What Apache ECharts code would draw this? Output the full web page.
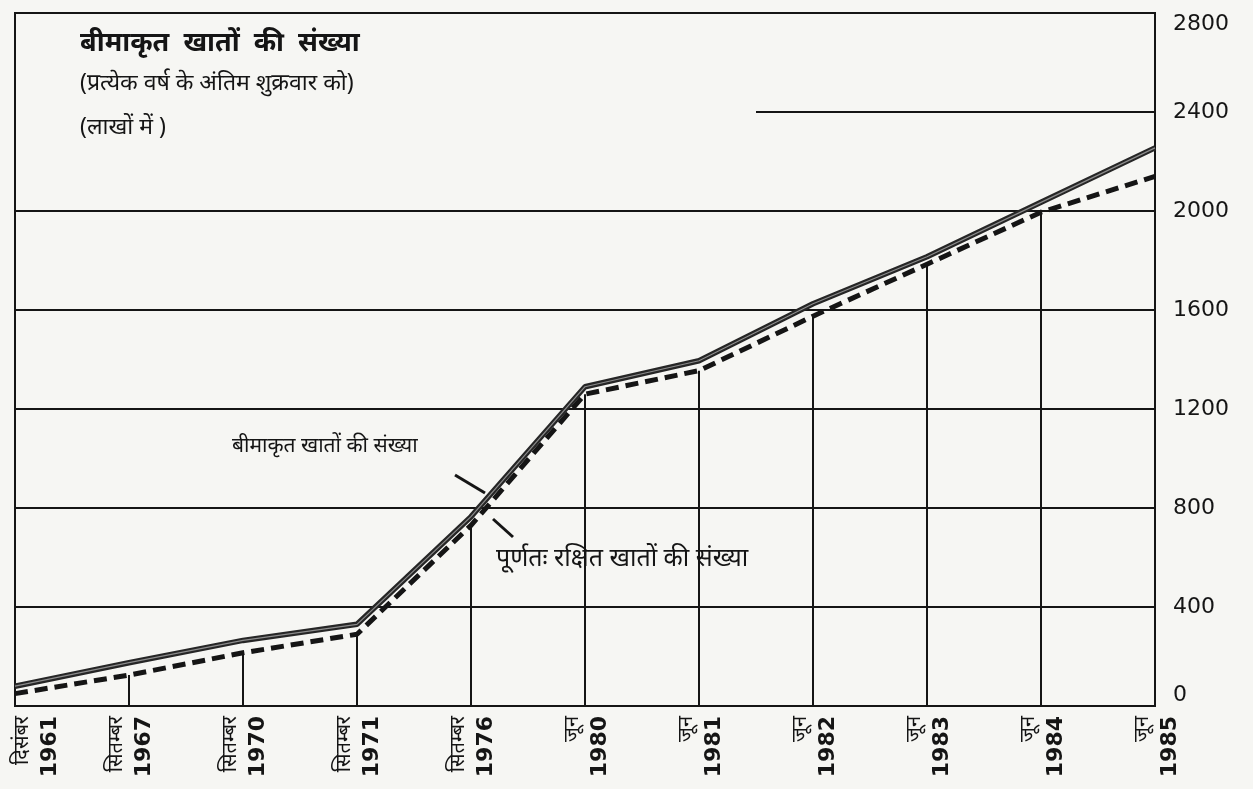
<!DOCTYPE html>
<html>
<head>
<meta charset="utf-8">
<title>बीमाकृत खातों की संख्या</title>
<script src="https://cdn.jsdelivr.net/npm/echarts@6/dist/echarts.min.js"></script>
<style>
  html, body { margin: 0; padding: 0; background: #f6f6f3; }
  #main { width: 1253px; height: 789px; }
</style>
</head>
<body>
<div id="main"></div>
<script>
// x axis: month + year of each reading
var months = ['दिसंबर', 'सितम्बर', 'सितम्बर', 'सितम्बर', 'सितम्बर', 'जून', 'जून', 'जून', 'जून', 'जून', 'जून'];
var years = ['1961', '1967', '1970', '1971', '1976', '1980', '1981', '1982', '1983', '1984', '1985'];
// बीमाकृत खातों की संख्या (लाखों में)
var insured = [80, 175, 265, 330, 765, 1290, 1395, 1625, 1815, 2035, 2255];
// पूर्णतः रक्षित खातों की संख्या (लाखों में)
var fullyProtected = [50, 125, 215, 290, 730, 1260, 1355, 1575, 1785, 1995, 2140];
// right hand scale
var yTicks = [0, 400, 800, 1200, 1600, 2000, 2400, 2800];

var categories = years.map(function (y, i) { return months[i] + '\n' + y; });

var ink = '#151515';
var hindi = '"Noto Sans", "Noto Sans Devanagari", sans-serif';
var digits = '"DejaVu Sans", sans-serif';

var chart = echarts.init(document.getElementById('main'));

// grid lines: 2400 is only drawn on the right part, done with a markLine below
var splitColors = yTicks.map(function (t) { return t === 2400 ? 'rgba(0,0,0,0)' : ink; });

var option = {
  backgroundColor: '#f6f6f3',
  animation: false,
  grid: {
    left: 15, right: 98, top: 13, bottom: 83,
    outerBoundsMode: 'none',
    containLabel: false,
    show: true,
    borderColor: ink,
    borderWidth: 2,
    backgroundColor: 'transparent'
  },
  xAxis: [
    {
      type: 'category',
      data: categories,
      boundaryGap: false,
      axisLine: { show: true, lineStyle: { color: ink, width: 2 } },
      axisTick: { show: false },
      splitLine: { show: false },
      axisLabel: {
        interval: 0,
        rotate: 90,
        margin: 10,
        formatter: function (v, idx) {
          var p = v.split('\n');
          var s = '{m|' + p[0] + '}\n{y|' + p[1] + '}';
          // first label sits inside the frame, pushed to the right
          if (idx === 0) s = '{s| }\n' + s;
          return s;
        },
        rich: {
          s: { fontSize: 10, lineHeight: 40 },
          m: { fontSize: 20, lineHeight: 30, fontFamily: hindi, color: ink },
          y: { fontSize: 22, lineHeight: 26, fontWeight: 'bold', fontFamily: digits, color: ink }
        }
      }
    },
    {
      // hidden helper axis, only used to place the short 2400 line
      type: 'value',
      min: 0,
      max: years.length - 1,
      show: false
    }
  ],
  yAxis: {
    type: 'value',
    position: 'right',
    min: yTicks[0],
    max: yTicks[yTicks.length - 1],
    interval: 400,
    axisLine: { show: true, lineStyle: { color: ink, width: 2 } },
    axisTick: { show: false },
    splitLine: { show: true, lineStyle: { color: splitColors, width: 2 } },
    axisLabel: {
      margin: 18,
      fontSize: 22,
      fontFamily: digits,
      color: ink,
      formatter: function (v) { return String(v); },
      verticalAlignMaxLabel: 'top',
      verticalAlignMinLabel: 'bottom'
    }
  },
  series: [
    {
      // thin verticals from the base up to the curve
      name: 'drop',
      type: 'bar',
      data: fullyProtected,
      barWidth: 2,
      silent: true,
      itemStyle: { color: ink },
      z: 1
    },
    {
      name: 'grid2400',
      type: 'line',
      xAxisIndex: 1,
      data: [],
      silent: true,
      markLine: {
        silent: true,
        symbol: 'none',
        label: { show: false },
        lineStyle: { color: ink, width: 2, type: 'solid' },
        data: [[{ coord: [6.5, 2400] }, { coord: [10, 2400] }]]
      }
    },
    {
      name: 'पूर्णतः रक्षित खातों की संख्या',
      type: 'line',
      data: fullyProtected,
      symbol: 'none',
      silent: true,
      lineStyle: { color: ink, width: 5, type: [13, 7], cap: 'butt' },
      z: 3
    },
    {
      name: 'बीमाकृत खातों की संख्या',
      type: 'line',
      data: insured,
      symbol: 'none',
      silent: true,
      lineStyle: { color: '#262626', width: 5.5 },
      z: 4
    },
    {
      // light core of the double stroke
      name: 'core',
      type: 'line',
      data: insured,
      symbol: 'none',
      silent: true,
      lineStyle: { color: '#8c8c8c', width: 1.2 },
      z: 5
    }
  ],
  graphic: [
    { type: 'text', left: 80, top: 30, style: { text: 'बीमाकृत  खातों  की  संख्या', font: 'bold 27px ' + hindi, fill: ink } },
    { type: 'text', left: 80, top: 72, style: { text: '(प्रत्येक वर्ष के अंतिम शुक्रवार को)', font: '23px ' + hindi, fill: ink } },
    { type: 'text', left: 80, top: 116, style: { text: '(लाखों में )', font: '23px ' + hindi, fill: ink } },
    { type: 'text', left: 232, top: 436, style: { text: 'बीमाकृत खातों की संख्या', font: '21px ' + hindi, fill: ink } },
    { type: 'text', left: 496, top: 546, style: { text: 'पूर्णतः रक्षित खातों की संख्या', font: '25px ' + hindi, fill: ink } },
    // pointer strokes to the two curves
    { type: 'line', shape: { x1: 455, y1: 475, x2: 485, y2: 493 }, style: { stroke: ink, lineWidth: 3 } },
    { type: 'line', shape: { x1: 493, y1: 519, x2: 513, y2: 537 }, style: { stroke: ink, lineWidth: 3 } }
  ]
};

chart.setOption(option);
</script>
</body>
</html>
